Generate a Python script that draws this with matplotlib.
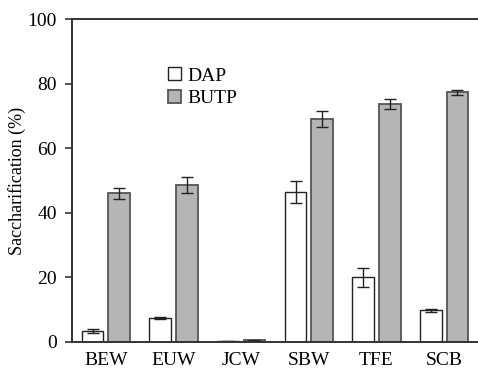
import matplotlib
matplotlib.use("Agg")
import matplotlib.pyplot as plt
import numpy as np

categories = ["BEW", "EUW", "JCW", "SBW", "TFE", "SCB"]
dap = [3.4, 7.4, 0.2, 46.5, 20.0, 9.8]
dap_err = [0.6, 0.4, 0.1, 3.5, 3.0, 0.4]
butp = [46.0, 48.5, 0.5, 69.0, 73.7, 77.3]
butp_err = [1.8, 2.5, 0.2, 2.5, 1.6, 0.8]
yticks = [0, 20, 40, 60, 80, 100]

plt.rcParams['font.family'] = ['Liberation Serif', 'DejaVu Serif']

fig = plt.figure(figsize=(4.78, 3.70), dpi=100)
ax = fig.add_axes([72/478, 28/370, 406/478, 323/370])

x = np.arange(len(categories))
w = 0.32
off = 0.195
ax.bar(x - off, dap, w, color='white', edgecolor='#222222', linewidth=1.0,
       yerr=dap_err, error_kw=dict(ecolor='#222222', elinewidth=1.0, capsize=4, capthick=1.0),
       label='DAP', zorder=2)
ax.bar(x + off, butp, w, color='#b5b5b5', edgecolor='#555555', linewidth=1.3,
       yerr=butp_err, error_kw=dict(ecolor='#222222', elinewidth=1.0, capsize=4, capthick=1.0),
       label='BUTP', zorder=2)

ax.set_xlim(-0.5, 5.5)
ax.set_ylim(0, 100)
ax.set_yticks(yticks)
ax.set_xticks(x)
ax.set_xticklabels(categories, fontsize=14)
ax.tick_params(axis='x', length=0, pad=7)
ax.tick_params(axis='y', direction='out', length=5, width=1.2, labelsize=14, pad=6, color='#333333')
ax.set_ylabel('Saccharification (%)', fontsize=13)
ax.yaxis.set_label_coords(-0.114, 0.5)

for s in ['left', 'bottom', 'top']:
    ax.spines[s].set_color('#333333')
    ax.spines[s].set_linewidth(1.4)
ax.spines['right'].set_visible(False)

leg = ax.legend(loc='upper left', bbox_to_anchor=(0.213, 0.88), frameon=False,
                fontsize=14, handlelength=0.65, handleheight=0.65, handletextpad=0.35,
                labelspacing=0.25, borderpad=0)

fig.savefig('out.png', dpi=100)
